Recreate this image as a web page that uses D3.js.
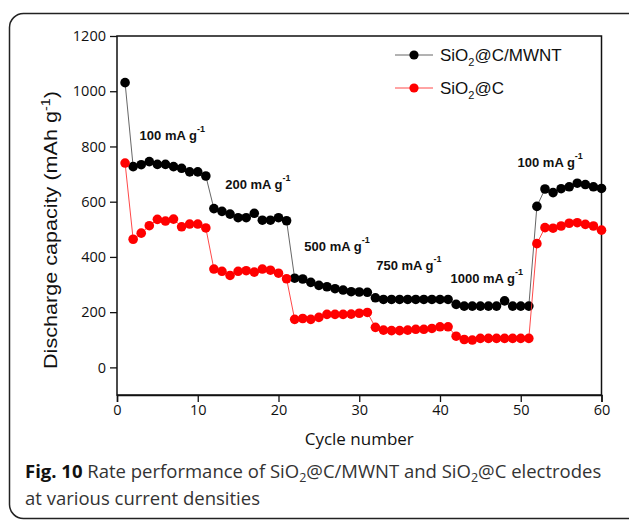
<!DOCTYPE html>
<html>
<head>
<meta charset="utf-8">
<script src="https://cdn.jsdelivr.net/npm/d3@7"></script>
<style>
  html, body { margin: 0; padding: 0; background: #fff; }
  svg { display: block; }
</style>
</head>
<body>
<svg id="chart" width="629" height="521"></svg>
<script>
// Rate performance data: discharge capacity (mAh g-1) per cycle
const cycles = d3.range(1, 61);
const mwnt = [1031, 727, 734, 745, 735, 735, 727, 721, 708, 708, 693,
              575, 565, 555, 542, 542, 558, 533, 533, 542, 531,
              323, 320, 308, 297, 292, 285, 280, 274, 273, 272,
              252, 246, 246, 246, 246, 246, 246, 246, 246, 246,
              228, 222, 222, 222, 222, 222, 241, 222, 222, 222,
              583, 646, 633, 647, 654, 667, 662, 654, 648];
const sioc = [740, 464, 486, 513, 536, 530, 537, 509, 519, 519, 505,
              356, 348, 333, 348, 350, 345, 356, 352, 341, 321,
              174, 177, 174, 181, 192, 192, 192, 193, 196, 199,
              145, 135, 133, 133, 135, 138, 138, 141, 147, 147,
              113, 101, 99, 105, 105, 105, 105, 105, 105, 105,
              448, 506, 504, 512, 522, 524, 518, 512, 497];
const xTicks = [0, 10, 20, 30, 40, 50, 60];
const yTicks = [0, 200, 400, 600, 800, 1000, 1200];
const rateLabels = [
  { text: "100 mA g", cycle: 2.8, value: 825 },
  { text: "200 mA g", cycle: 13.4, value: 645 },
  { text: "500 mA g", cycle: 23.2, value: 421 },
  { text: "750 mA g", cycle: 32.1, value: 352 },
  { text: "1000 mA g", cycle: 41.3, value: 305 },
  { text: "100 mA g", cycle: 49.6, value: 727 }
];

const svg = d3.select("#chart");
const sans = "'Open Sans', 'Noto Sans', sans-serif";
const arial = "'Liberation Sans', Arial, sans-serif";

// Rounded figure frame
svg.append("rect")
  .attr("x", 9.5).attr("y", 13.5).attr("width", 640).attr("height", 505)
  .attr("rx", 14).attr("ry", 14)
  .attr("fill", "none").attr("stroke", "#222").attr("stroke-width", 1.5);

const x = d3.scaleLinear().domain([0, 60]).range([117, 601.5]);
const y = d3.scaleLinear().domain([-100, 1200]).range([395, 36]);

// Plot box
svg.append("rect")
  .attr("x", x(0)).attr("y", y(1200))
  .attr("width", x(60) - x(0)).attr("height", y(-100) - y(1200))
  .attr("fill", "none").attr("stroke", "#111").attr("stroke-width", 1.5);

// Bottom axis: minor then major ticks
const gx = svg.append("g").attr("transform", `translate(0,${y(-100)})`);
gx.call(d3.axisBottom(x).tickValues([5, 15, 25, 35, 45, 55]).tickSize(5).tickFormat(""))
  .call(g => g.select(".domain").remove());
gx.call(d3.axisBottom(x).tickValues(xTicks).tickSize(7).tickPadding(3).tickFormat(d3.format("d")))
  .call(g => g.select(".domain").attr("stroke", "#111").attr("stroke-width", 1.5));
gx.selectAll("line").attr("stroke", "#111").attr("stroke-width", 1.3);
gx.selectAll("text").attr("font-family", sans).attr("font-size", 14.5).attr("fill", "#111");

// Left axis: minor then major ticks
const gy = svg.append("g").attr("transform", `translate(${x(0)},0)`);
gy.call(d3.axisLeft(y).tickValues([-100, 100, 300, 500, 700, 900, 1100]).tickSize(4).tickFormat(""))
  .call(g => g.select(".domain").remove());
gy.call(d3.axisLeft(y).tickValues(yTicks).tickSize(7).tickPadding(4).tickFormat(d3.format("d")))
  .call(g => g.select(".domain").remove());
gy.selectAll("line").attr("stroke", "#111").attr("stroke-width", 1.3);
gy.selectAll("text").attr("font-family", sans).attr("font-size", 14.5).attr("fill", "#111");

// Axis titles
svg.append("text")
  .attr("x", x(30)).attr("y", 445)
  .attr("text-anchor", "middle")
  .attr("font-family", sans).attr("font-size", 17).attr("fill", "#111")
  .text("Cycle number");

const yTitle = svg.append("text")
  .attr("transform", "translate(57,230) rotate(-90) scale(1.2,1)")
  .attr("text-anchor", "middle")
  .attr("font-family", arial).attr("font-size", 18).attr("fill", "#111");
yTitle.append("tspan").text("Discharge capacity (mAh g");
yTitle.append("tspan").attr("font-size", 12).attr("dy", -7).text("-1");
yTitle.append("tspan").attr("dy", 7).text(")");

// Series
const series = [
  { name: "SiO", tail: "@C/MWNT", values: mwnt, marker: "#000", line: "#555" },
  { name: "SiO", tail: "@C", values: sioc, marker: "#f00", line: "#f33" }
];

const line = d3.line().x(d => x(d[0])).y(d => y(d[1]));

series.forEach(s => {
  const pts = cycles.map((c, i) => [c, s.values[i]]);
  svg.append("path")
    .attr("d", line(pts))
    .attr("fill", "none").attr("stroke", s.line).attr("stroke-width", 0.9);
  svg.append("g").selectAll("circle").data(pts).join("circle")
    .attr("cx", d => x(d[0])).attr("cy", d => y(d[1]))
    .attr("r", 4.8).attr("fill", s.marker);
});

// Legend
series.forEach((s, i) => {
  const ly = 55 + i * 33;
  svg.append("line")
    .attr("x1", 395).attr("x2", 433).attr("y1", ly).attr("y2", ly)
    .attr("stroke", s.line).attr("stroke-width", 0.9);
  svg.append("circle").attr("cx", 414).attr("cy", ly).attr("r", 4.6).attr("fill", s.marker);
  const t = svg.append("text")
    .attr("x", 440).attr("y", ly + 6)
    .attr("font-family", arial).attr("font-size", 17).attr("fill", "#111");
  t.append("tspan").text(s.name);
  t.append("tspan").attr("font-size", 11).attr("dy", 5).text("2");
  t.append("tspan").attr("dy", -5).text(s.tail);
});

// Current density annotations
rateLabels.forEach(r => {
  const t = svg.append("text")
    .attr("x", x(r.cycle)).attr("y", y(r.value))
    .attr("font-family", arial).attr("font-size", 13).attr("font-weight", "bold")
    .attr("fill", "#111");
  t.append("tspan").text(r.text);
  t.append("tspan").attr("font-size", 9).attr("dy", -8).text("-1");
});

// Caption
const cap1 = svg.append("text")
  .attr("x", 25).attr("y", 478)
  .attr("font-family", sans).attr("font-size", 18.5).attr("fill", "#333");
cap1.append("tspan").attr("font-weight", "bold").attr("fill", "#111").text("Fig. 10");
cap1.append("tspan").text(" Rate performance of SiO");
cap1.append("tspan").attr("font-size", 12.5).attr("dy", 4).text("2");
cap1.append("tspan").attr("dy", -4).text("@C/MWNT and SiO");
cap1.append("tspan").attr("font-size", 12.5).attr("dy", 4).text("2");
cap1.append("tspan").attr("dy", -4).text("@C electrodes");
svg.append("text")
  .attr("x", 25).attr("y", 505)
  .attr("font-family", sans).attr("font-size", 18.5).attr("fill", "#333")
  .text("at various current densities");
</script>
</body>
</html>
